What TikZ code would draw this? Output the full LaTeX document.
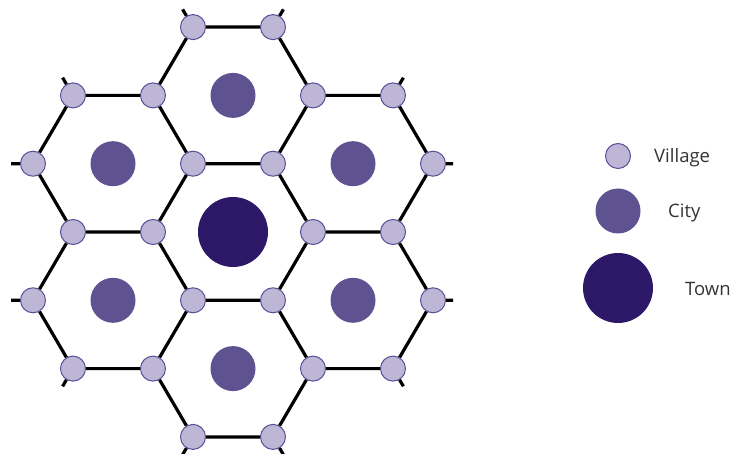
\documentclass[tikz,border=0pt]{standalone}
\usepackage{fontspec}
\setmainfont{Open Sans}
\definecolor{vfill}{HTML}{BDB7D5}
\definecolor{vline}{HTML}{5B4E98}
\definecolor{cityc}{HTML}{5E5291}
\definecolor{townc}{HTML}{2C1866}
\definecolor{txt}{HTML}{333333}
\begin{document}
\begin{tikzpicture}[x=1pt,y=-1pt,
  village/.style={circle,draw=vline,line width=1pt,fill=vfill,minimum size=25pt,inner sep=0pt},
  city/.style={circle,fill=cityc,minimum size=45pt,inner sep=0pt},
  town/.style={circle,fill=townc,minimum size=70pt,inner sep=0pt},
  road/.style={line width=3.2pt,black},
  lbl/.style={anchor=base west,inner sep=0pt,font=\fontsize{18.5}{20}\selectfont,text=txt}]
\useasboundingbox (0,0) rectangle (733,454);
\begin{scope}[shift={(233,232)},x=40pt,y=-68.3pt]
  % towns and cities
  \node[town] (T) at (0,0) {};
  \node[city] (C1) at (0,-2) {};
  \node[city] (C2) at (-3,-1) {};
  \node[city] (C3) at (-3,1) {};
  \node[city] (C4) at (0,2) {};
  \node[city] (C5) at (3,-1) {};
  \node[city] (C6) at (3,1) {};
  % villages: central ring
  \node[village] (A1) at (2,0) {};
  \node[village] (A2) at (1,-1) {};
  \node[village] (A3) at (-1,-1) {};
  \node[village] (A4) at (-2,0) {};
  \node[village] (A5) at (-1,1) {};
  \node[village] (A6) at (1,1) {};
  % shared outer
  \node[village] (S1) at (2,-2) {};
  \node[village] (S2) at (-2,-2) {};
  \node[village] (S3) at (-4,0) {};
  \node[village] (S4) at (-2,2) {};
  \node[village] (S5) at (2,2) {};
  \node[village] (S6) at (4,0) {};
  % outer only
  \node[village] (O1) at (1,-3) {};
  \node[village] (O2) at (-1,-3) {};
  \node[village] (O3) at (-4,-2) {};
  \node[village] (O4) at (-5,-1) {};
  \node[village] (O5) at (-5,1) {};
  \node[village] (O6) at (-4,2) {};
  \node[village] (O7) at (-1,3) {};
  \node[village] (O8) at (1,3) {};
  \node[village] (O9) at (4,-2) {};
  \node[village] (O10) at (5,-1) {};
  \node[village] (O11) at (5,1) {};
  \node[village] (O12) at (4,2) {};
  % stub ends
  \coordinate (t1) at (1.26,-3.26);
  \coordinate (t2) at (-1.26,-3.26);
  \coordinate (t3) at (-4.26,-2.26);
  \coordinate (t4) at (-5.55,-1);
  \coordinate (t5) at (-5.55,1);
  \coordinate (t6) at (-4.26,2.26);
  \coordinate (t7) at (-1.28,3.28);
  \coordinate (t8) at (1.28,3.28);
  \coordinate (t9) at (4.26,-2.26);
  \coordinate (t10) at (5.5,-1);
  \coordinate (t11) at (5.5,1);
  \coordinate (t12) at (4.26,2.26);
  % roads
  \draw[road] (A1)--(A2) (A2)--(A3) (A3)--(A4) (A4)--(A5) (A5)--(A6) (A6)--(A1);
  \draw[road] (A2)--(S1) (S1)--(O1) (O1)--(O2) (O2)--(S2) (S2)--(A3);
  \draw[road] (S2)--(O3) (O3)--(O4) (O4)--(S3) (S3)--(A4);
  \draw[road] (S3)--(O5) (O5)--(O6) (O6)--(S4) (S4)--(A5);
  \draw[road] (S4)--(O7) (O7)--(O8) (O8)--(S5) (S5)--(A6);
  \draw[road] (S1)--(O9) (O9)--(O10) (O10)--(S6) (S6)--(A1);
  \draw[road] (S6)--(O11) (O11)--(O12) (O12)--(S5);
  % stubs
  \draw[road] (O1)--(t1) (O2)--(t2) (O3)--(t3) (O4)--(t4) (O5)--(t5) (O6)--(t6)
              (O7)--(t7) (O8)--(t8) (O9)--(t9) (O10)--(t10) (O11)--(t11) (O12)--(t12);
\end{scope}
% legend
\node[village] (LV) at (618,156) {};
\node[city] (LC) at (618,211) {};
\node[town] (LT) at (618,288) {};
\node[lbl] (LVt) at (654,163) {Village};
\node[lbl] (LCt) at (668,218) {City};
\node[lbl] (LTt) at (685,295) {Town};
\end{tikzpicture}
\end{document}
